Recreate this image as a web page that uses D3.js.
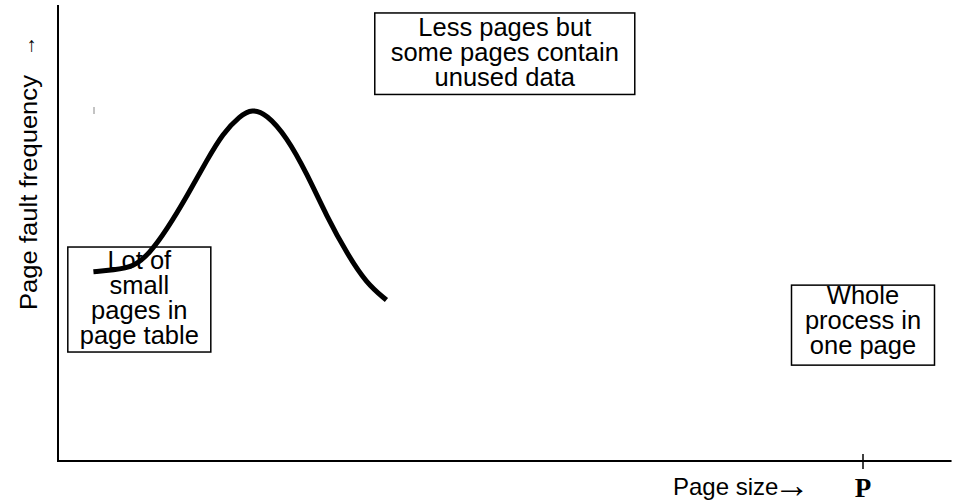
<!DOCTYPE html>
<html>
<head>
<meta charset="utf-8">
<script src="https://cdn.jsdelivr.net/npm/d3@7"></script>
<style>
  body { margin: 0; background: #fff; }
  text { font-family: "Liberation Sans", Arial, sans-serif; }
</style>
</head>
<body>
<div id="chart"></div>
<script>
// Data (arbitrary units: page size 0..10 with P at 10; frequency 0..10)
const curveX = [0.44, 0.69, 0.94, 1.14, 1.35, 1.60, 1.85, 2.05, 2.26, 2.41, 2.59, 2.84, 3.09, 3.34, 3.59, 3.83, 4.08]
const curveY = [4.15, 4.19, 4.25, 4.56, 5.07, 5.80, 6.60, 7.19, 7.57, 7.72, 7.61, 7.11, 6.31, 5.36, 4.55, 3.90, 3.53]
const tickValues = [10]
const tickLabels = ['P']

const noteLines = [
  ['Lot of', 'small', 'pages in', 'page table'],
  ['Less pages but', 'some pages contain', 'unused data'],
  ['Whole', 'process in', 'one page']
]
// note anchor (centre x, first baseline) in data units
const noteX = [1.01, 5.55, 10.0]
const noteY = [4.21, 9.31, 3.44]

const xLabel = 'Page size'
const yLabel = 'Page fault frequency'

// Dimensions
const dimensions = { width: 955, height: 501 }

const svg = d3.select('#chart')
  .append('svg')
  .attr('width', dimensions.width)
  .attr('height', dimensions.height)

// Scales
const xScale = d3.scaleLinear().domain([0, 10]).range([58, 863])
const yScale = d3.scaleLinear().domain([0, 10]).range([461, 5])

// Axes (plain lines, no ticks except P)
svg.append('line')
  .attr('x1', xScale(0)).attr('x2', xScale(0))
  .attr('y1', yScale(10)).attr('y2', yScale(0) + 1)
  .attr('stroke', '#000').attr('stroke-width', 2)
svg.append('line')
  .attr('x1', xScale(0)).attr('x2', xScale(11.1))
  .attr('y1', yScale(0)).attr('y2', yScale(0))
  .attr('stroke', '#000').attr('stroke-width', 2)

svg.selectAll('.tick')
  .data(tickValues)
  .join('line')
  .attr('class', 'tick')
  .attr('x1', d => xScale(d)).attr('x2', d => xScale(d))
  .attr('y1', yScale(0) - 7).attr('y2', yScale(0) + 8)
  .attr('stroke', '#000').attr('stroke-width', 1.5)

svg.selectAll('.ticklabel')
  .data(tickValues)
  .join('text')
  .attr('class', 'ticklabel')
  .attr('x', d => xScale(d))
  .attr('y', 497)
  .attr('text-anchor', 'middle')
  .style('font-family', '"Liberation Serif", "Times New Roman", serif')
  .style('font-weight', 'bold')
  .style('font-size', '27px')
  .text((d, i) => tickLabels[i])

// x label + arrow
svg.append('text')
  .attr('x', 673)
  .attr('y', 495)
  .style('font-size', '24px')
  .text(xLabel)
svg.append('text')
  .attr('x', 774)
  .attr('y', 497)
  .style('font-size', '36px')
  .text('\u2192')

// y label + arrow
svg.append('text')
  .attr('transform', 'translate(37, 310) rotate(-90)')
  .attr('textLength', 235)
  .attr('lengthAdjust', 'spacingAndGlyphs')
  .style('font-size', '23px')
  .text(yLabel)
svg.append('text')
  .attr('transform', 'translate(35, 56) rotate(-90)')
  .style('font-size', '20px')
  .text('\u2192')

// stray little mark
svg.append('line')
  .attr('x1', 94).attr('x2', 94)
  .attr('y1', 107).attr('y2', 114)
  .attr('stroke', '#888').attr('stroke-width', 1)

// Notes (boxes with centred text)
const boxW = [143, 260, 143]
const boxPadTop = [22, 23.5, 19]
const boxH = [105, 81.5, 80]
const lineH = 25

const notes = svg.selectAll('.note')
  .data(noteLines)
  .join('g')
  .attr('class', 'note')

notes.append('rect')
  .attr('x', (d, i) => xScale(noteX[i]) - boxW[i] / 2)
  .attr('y', (d, i) => yScale(noteY[i]) - boxPadTop[i])
  .attr('width', (d, i) => boxW[i])
  .attr('height', (d, i) => boxH[i])
  .attr('fill', 'none')
  .attr('stroke', '#000')
  .attr('stroke-width', 1.5)

notes.each(function (d, i) {
  d3.select(this).selectAll('text')
    .data(d)
    .join('text')
    .attr('x', xScale(noteX[i]))
    .attr('y', (t, j) => yScale(noteY[i]) + j * lineH)
    .attr('text-anchor', 'middle')
    .style('font-size', '25.5px')
    .text(t => t)
})

// Curve
const points = curveX.map((x, i) => [x, curveY[i]])
const lineGenerator = d3.line()
  .x(d => xScale(d[0]))
  .y(d => yScale(d[1]))
  .curve(d3.curveBasis)

svg.append('path')
  .datum(points)
  .attr('d', lineGenerator)
  .attr('fill', 'none')
  .attr('stroke', '#000')
  .attr('stroke-width', 5)
</script>
</body>
</html>
